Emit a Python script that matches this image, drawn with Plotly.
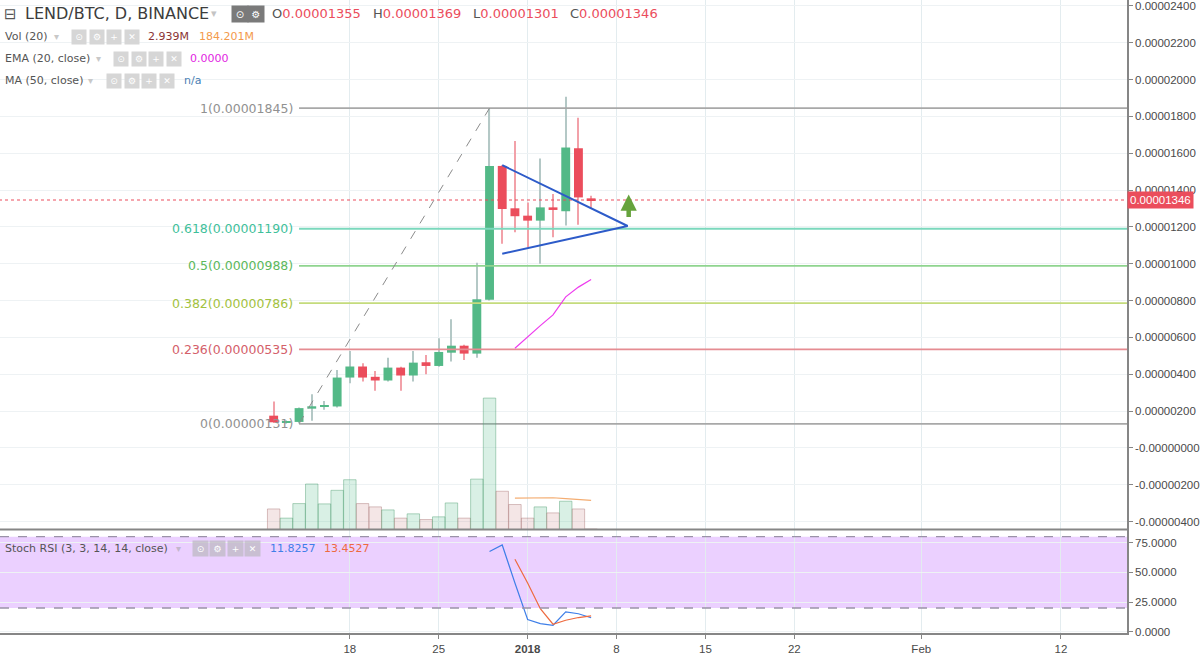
import plotly.graph_objects as go

# ---------------- data ----------------
SAT = 1e-8
dates = ["2017-12-12", "2017-12-13", "2017-12-14", "2017-12-15", "2017-12-16", "2017-12-17",
         "2017-12-18", "2017-12-19", "2017-12-20", "2017-12-21", "2017-12-22", "2017-12-23",
         "2017-12-24", "2017-12-25", "2017-12-26", "2017-12-27", "2017-12-28", "2017-12-29",
         "2017-12-30", "2017-12-31", "2018-01-01", "2018-01-02", "2018-01-03", "2018-01-04",
         "2018-01-05", "2018-01-06"]
open_sat = [175, 140, 141, 213, 226, 225, 382, 442, 386, 366, 436, 393, 465, 445, 517, 555,
            512, 805, 1531, 1301, 1261, 1234, 1306, 1285, 1627, 1355]
high_sat = [252, 150, 220, 292, 254, 423, 526, 459, 418, 490, 440, 526, 504, 595, 699, 560,
            1005, 1845, 1535, 1667, 1333, 1571, 1378, 1906, 1793, 1369]
low_sat = [135, 131, 135, 148, 207, 219, 351, 360, 310, 360, 310, 360, 400, 440, 469, 477,
           490, 800, 1108, 1171, 1090, 1000, 1144, 1207, 1211, 1301]
close_sat = [139, 142, 216, 226, 230, 382, 442, 382, 366, 436, 393, 463, 445, 521, 555, 512,
             807, 1531, 1297, 1258, 1234, 1306, 1292, 1631, 1360, 1346]
volume_m = [130, 72, 164, 288, 162, 248, 315, 164, 143, 124, 72, 99, 63, 80, 168, 72,
            319, 832, 242, 158, 72, 143, 105, 179, 130, 2.939]

ma_dates = ["2017-12-31", "2018-01-01", "2018-01-02", "2018-01-03", "2018-01-04", "2018-01-05", "2018-01-06"]
vol_ma_m = [198, 200, 202, 201, 196, 190, 184.201]
ema20_sat = [541, 604, 664, 722, 820, 873, 915]

stoch_k_dates = ["2017-12-29", "2017-12-30", "2017-12-31", "2018-01-01", "2018-01-02",
                 "2018-01-03", "2018-01-04", "2018-01-05", "2018-01-06"]
stoch_k = [67.5, 73.0, 41.0, 10.3, 6.9, 5.5, 16.7, 15.2, 11.8257]
stoch_d_dates = ["2017-12-31", "2018-01-01", "2018-01-02", "2018-01-03", "2018-01-04",
                 "2018-01-05", "2018-01-06"]
stoch_d = [61.0, 41.0, 19.4, 6.4, 9.7, 12.0, 13.4527]

fib_labels = ["0", "0.236", "0.382", "0.5", "0.618", "1"]
fib_prices_sat = [131, 535, 786, 988, 1190, 1845]
fib_start = "2017-12-14"
trend_dates = ["2017-12-14", "2017-12-29"]
trend_sat = [131, 1845]
tri_dates = ["2017-12-30", "2018-01-08 21:00", "2017-12-30"]
tri_sat = [1535, 1205, 1054]
arrow_date = "2018-01-08 23:00"
arrow_tip_sat = 1376
last_price_sat = 1346

price_ticks_sat = [-400, -200, 0, 200, 400, 600, 800, 1000, 1200, 1400, 1600, 1800, 2000, 2200, 2400]
price_tick_text = ["-0.00000400", "-0.00000200", "-0.00000000", "0.00000200", "0.00000400",
                   "0.00000600", "0.00000800", "0.00001000", "0.00001200", "0.00001400",
                   "0.00001600", "0.00001800", "0.00002000", "0.00002200", "0.00002400"]
stoch_ticks = [0, 25, 50, 75]
stoch_tick_text = ["0.0000", "25.0000", "50.0000", "75.0000"]
x_tick_dates = ["2017-12-18", "2017-12-25", "2018-01-01", "2018-01-08", "2018-01-15",
                "2018-01-22", "2018-02-01", "2018-02-12"]
x_tick_text = ["18", "25", "<b>2018</b>", "8", "15", "22", "Feb", "12"]

# ---------------- styles ----------------
UP = "#53b987"
DOWN = "#eb4d5c"
UP_WICK = "#b4c8c6"
DOWN_WICK = "#f2a1a9"
GRID = "#eef2f4"
VGRID = "#e3ecef"
AXIS = "#868686"
TXT = "#4a4a4a"
fib_line_colors = ["#a8a8a8", "#e58c92", "#c4db7c", "#8fd48f", "#7bd8bd", "#a8a8a8"]
fib_text_colors = ["#919191", "#d4606a", "#a3c23e", "#5cb85c", "#3fbf9b", "#919191"]

DAY_MS = 86400000
W, H = 1128, 636

is_up = [c >= o for o, c in zip(open_sat, close_sat)]
fig = go.Figure()

# volume (overlay axis y2)
fig.add_trace(go.Bar(
    x=dates, y=volume_m, xaxis="x", yaxis="y2", width=DAY_MS * 0.98,
    marker=dict(color=["rgba(83,185,135,0.22)" if u else "rgba(200,130,130,0.20)" for u in is_up],
                line=dict(color=["rgba(83,160,115,0.45)" if u else "rgba(170,120,120,0.45)" for u in is_up],
                          width=1)),
    hoverinfo="skip", showlegend=False))
fig.add_trace(go.Scatter(x=ma_dates, y=vol_ma_m, xaxis="x", yaxis="y2", mode="lines",
                         line=dict(color="#f4ad72", width=1.2), showlegend=False, hoverinfo="skip"))

# wicks
fig.add_trace(go.Bar(
    x=dates, y=[(h - l) * SAT for h, l in zip(high_sat, low_sat)], base=[l * SAT for l in low_sat],
    width=DAY_MS * 0.085, xaxis="x", yaxis="y",
    marker=dict(color=[UP_WICK if u else DOWN_WICK for u in is_up], line=dict(width=0)),
    showlegend=False, hoverinfo="skip"))
# bodies
fig.add_trace(go.Bar(
    x=dates, y=[max(abs(c - o), 1.2) * SAT for o, c in zip(open_sat, close_sat)],
    base=[min(o, c) * SAT for o, c in zip(open_sat, close_sat)],
    width=DAY_MS * 0.7, xaxis="x", yaxis="y",
    marker=dict(color=[UP if u else DOWN for u in is_up], line=dict(width=0)),
    showlegend=False, hoverinfo="skip"))

# last price dotted line
fig.add_trace(go.Scatter(x=["2017-11-01", "2018-03-01"], y=[last_price_sat * SAT] * 2, mode="lines",
                         line=dict(color=DOWN, width=1, dash="dot"), showlegend=False, hoverinfo="skip"))

# fib lines
for lab, p, lc in zip(fib_labels, fib_prices_sat, fib_line_colors):
    fig.add_trace(go.Scatter(x=[fib_start, "2018-03-01"], y=[p * SAT, p * SAT], mode="lines",
                             line=dict(color=lc, width=1.8), showlegend=False, hoverinfo="skip"))
# trend dashed line
fig.add_trace(go.Scatter(x=trend_dates, y=[v * SAT for v in trend_sat], mode="lines",
                         line=dict(color="#8c8c8c", width=1, dash="dash"), showlegend=False, hoverinfo="skip"))
# EMA
fig.add_trace(go.Scatter(x=ma_dates, y=[v * SAT for v in ema20_sat], mode="lines",
                         line=dict(color="#ee3cee", width=1.2), showlegend=False, hoverinfo="skip"))
# triangle
fig.add_trace(go.Scatter(x=tri_dates, y=[v * SAT for v in tri_sat], mode="lines",
                         line=dict(color="#2d5bc9", width=2), showlegend=False, hoverinfo="skip"))

# stoch RSI
fig.add_trace(go.Scatter(x=stoch_k_dates, y=stoch_k, xaxis="x2", yaxis="y3", mode="lines",
                         line=dict(color="#3f7fe8", width=1.2), showlegend=False, hoverinfo="skip"))
fig.add_trace(go.Scatter(x=stoch_d_dates, y=stoch_d, xaxis="x2", yaxis="y3", mode="lines",
                         line=dict(color="#ee6a3f", width=1.2), showlegend=False, hoverinfo="skip"))

x_range = ["2017-11-20 10:48", "2018-02-17 04:48"]
stoch_frac = 104 / 636

fig.update_layout(
    width=1200, height=655,
    margin=dict(l=0, r=72, t=0, b=19),
    paper_bgcolor="white", plot_bgcolor="white",
    barmode="overlay", showlegend=False,
    xaxis=dict(domain=[0, 1], anchor="y", type="date", range=x_range, tickvals=x_tick_dates,
               showticklabels=False, showgrid=True, gridcolor=VGRID, gridwidth=1, zeroline=False,
               showline=False, ticks=""),
    yaxis=dict(domain=[stoch_frac, 1], anchor="x", side="right", range=[-443 * SAT, 2432 * SAT],
               tickvals=[v * SAT for v in price_ticks_sat], ticktext=price_tick_text,
               showgrid=True, gridcolor=GRID, zeroline=False, showline=True, linecolor=AXIS,
               linewidth=1.5, ticks="outside", ticklen=4, tickcolor=AXIS, ticklabeloverflow="allow",
               tickfont=dict(family="Liberation Sans", size=11.5, color=TXT)),
    yaxis2=dict(overlaying="y", anchor="x", range=[0, 3352], visible=False),
    xaxis2=dict(domain=[0, 1], anchor="y3", type="date", matches="x", range=x_range,
                tickvals=x_tick_dates, ticktext=x_tick_text, showgrid=True, gridcolor=VGRID,
                zeroline=False, showline=True, linecolor=AXIS, linewidth=1.5, ticks="outside",
                ticklen=4, tickcolor=AXIS, tickfont=dict(family="Liberation Sans", size=11.5, color=TXT)),
    yaxis3=dict(domain=[0, stoch_frac], anchor="x2", side="right", range=[-1, 86],
                tickvals=stoch_ticks, ticktext=stoch_tick_text, showgrid=True, gridcolor=GRID,
                zeroline=False, showline=True, linecolor=AXIS, linewidth=1.5, ticks="outside",
                ticklen=4, tickcolor=AXIS, ticklabeloverflow="allow",
                tickfont=dict(family="Liberation Sans", size=11.5, color=TXT)),
)

shapes = [
    dict(type="rect", xref="x2 domain", yref="y3", x0=0, x1=1, y0=20, y1=80,
         fillcolor="rgba(153,21,255,0.2)", line=dict(width=0), layer="below"),
    dict(type="line", xref="x2 domain", yref="y3", x0=0, x1=1, y0=80, y1=80,
         line=dict(color="#9b92a8", width=1.3, dash="dash")),
    dict(type="line", xref="x2 domain", yref="y3", x0=0, x1=1, y0=20, y1=20,
         line=dict(color="#9b92a8", width=1.3, dash="dash")),
    dict(type="line", xref="paper", yref="paper", x0=0, x1=1, y0=stoch_frac, y1=stoch_frac,
         line=dict(color=AXIS, width=2)),
]
fig.update_layout(shapes=shapes)

anns = []


def txt(px, py, s, color=TXT, size=11, family="DejaVu Sans"):
    anns.append(dict(x=px / W, y=(H - py) / H, xref="paper", yref="paper", text=s, showarrow=False,
                     xanchor="left", yanchor="middle", font=dict(family=family, size=size, color=color)))


def box(px, py, glyph, bg, size=12, fs=9, fg="white"):
    anns.append(dict(x=px / W, y=(H - py) / H, xref="paper", yref="paper", text=glyph, showarrow=False,
                     xanchor="left", yanchor="middle", width=size, height=size, bgcolor=bg,
                     align="center", valign="middle",
                     font=dict(family="DejaVu Sans", size=fs, color=fg)))


ICONS = ["⊙", "⚙", "+", "✕"]
LIGHT = "#d6d6d6"

# row 1
txt(2, 14, "⊟", "#555555", 15)
txt(23, 14, "LEND/BTC, D, BINANCE", "#3c3c3c", 16)
txt(209, 14, "▾", "#c4c4c4", 11)
box(231, 14, "⊙", "#7a7a7a", 14, 10)
box(247, 14, "⚙", "#7a7a7a", 14, 10)
ohlc_x = [270, 371, 471, 569]
ohlc_letters = ["O", "H", "L", "C"]
ohlc_vals = ["0.00001355", "0.00001369", "0.00001301", "0.00001346"]
for xx, lt, vv in zip(ohlc_x, ohlc_letters, ohlc_vals):
    txt(xx, 14, lt + "<span style='color:%s'>%s</span>" % (DOWN, vv), "#555555", 13)

# row 2
txt(3, 37, "Vol (20)", "#555555", 11)
txt(52, 37, "▾", "#c8c8c8", 10)
for i, g in enumerate(ICONS):
    box(71 + i * 17.7, 37, g, LIGHT)
txt(146, 37, "2.939M", "#8a3434", 11)
txt(197, 37, "184.201M", "#f39a4c", 11)

# row 3
txt(3, 59, "EMA (20, close)", "#555555", 11)
txt(94, 59, "▾", "#c8c8c8", 10)
for i, g in enumerate(ICONS):
    box(113 + i * 17.7, 59, g, LIGHT)
txt(188, 59, "0.0000", "#e21fe2", 11)

# row 4
txt(3, 81, "MA (50, close)", "#555555", 11)
txt(86, 81, "▾", "#c8c8c8", 10)
for i, g in enumerate(ICONS):
    box(106 + i * 17.7, 81, g, LIGHT)
txt(182, 81, "n/a", "#4a80b4", 11)

# stoch row
txt(3, 551, "Stoch RSI (3, 3, 14, 14, close)", "#555555", 11)
txt(174, 551, "▾", "#c2b6cc", 10)
for i, g in enumerate(ICONS):
    box(192 + i * 17.4, 551, g, "rgba(190,185,195,0.75)", 13)
txt(268, 551, "11.8257", "#3f7fe8", 11)
txt(322, 551, "13.4527", "#ee6a3f", 11)

# fib labels
for lab, p, tc in zip(fib_labels, fib_prices_sat, fib_text_colors):
    anns.append(dict(x=fib_start, y=p * SAT, xref="x", yref="y", xanchor="right", yanchor="middle",
                     xshift=-4, showarrow=False, text="%s(%.8f)" % (lab, p * SAT),
                     font=dict(family="DejaVu Sans", size=12.5, color=tc)))

# last price label
anns.append(dict(x=1.0, y=last_price_sat * SAT, xref="paper", yref="y", xanchor="left", yanchor="middle",
                 showarrow=False, text="0.00001346", bgcolor=DOWN, borderpad=2,
                 font=dict(family="Liberation Sans", size=11.5, color="white")))

# green arrow
anns.append(dict(x=arrow_date, y=arrow_tip_sat * SAT, xref="x", yref="y", showarrow=True, text="",
                 ax=0, ay=24, axref="pixel", ayref="pixel", arrowhead=2, arrowsize=0.72, arrowwidth=4.5,
                 arrowcolor="#66a33d", standoff=0))

fig.update_layout(annotations=anns)
fig.write_html("out.html")
